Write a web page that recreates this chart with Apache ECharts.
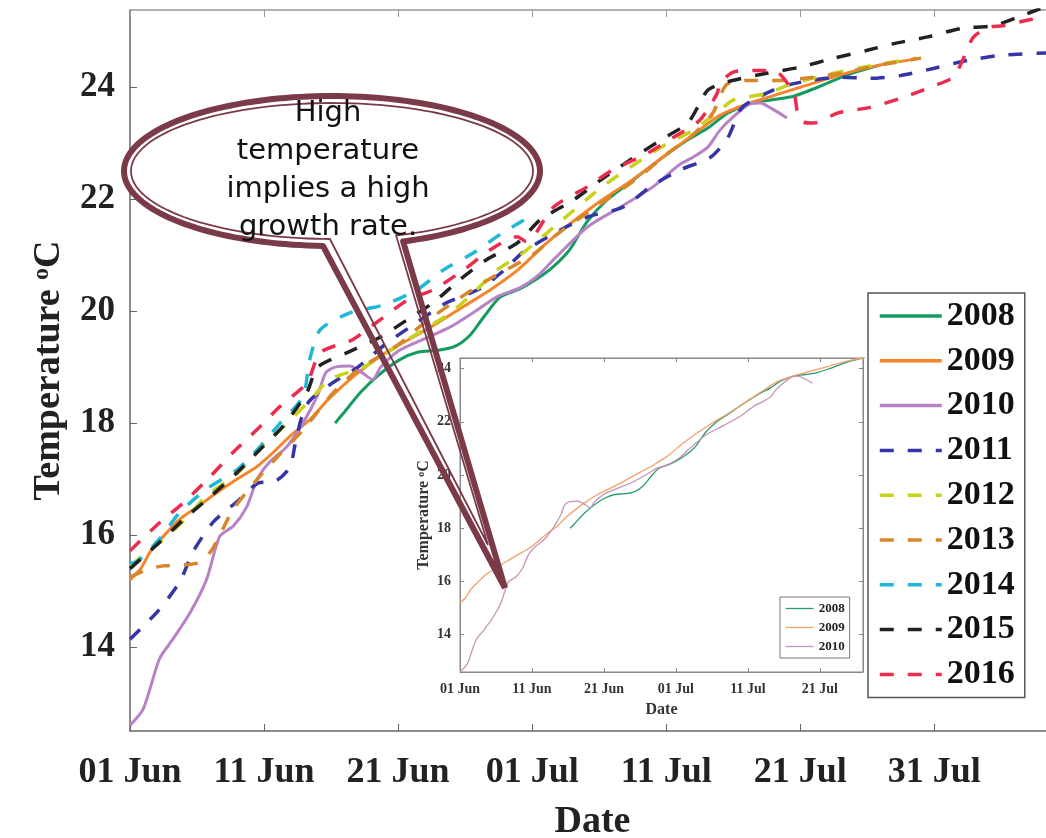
<!DOCTYPE html>
<html><head><meta charset="utf-8">
<script src="https://cdn.jsdelivr.net/npm/echarts@6/dist/echarts.min.js"></script>
<style>html,body{margin:0;padding:0;background:#fff}#c{width:1046px;height:838px}</style>
</head><body><div id="c"></div>
<script>
// ---- tick labels ----
const xTickDays = [0, 10, 20, 30, 40, 50, 60];
const xTickLabels = ['01 Jun', '11 Jun', '21 Jun', '01 Jul', '11 Jul', '21 Jul', '31 Jul'];
const yTicks = [14, 16, 18, 20, 22, 24];
const insetXTickDays = [0, 10, 20, 30, 40, 50];
const insetXTickLabels = ['01 Jun', '11 Jun', '21 Jun', '01 Jul', '11 Jul', '21 Jul'];
const insetYTicks = [14, 16, 18, 20, 22, 24];

// ---- series values: [day after 01 Jun, temperature °C] ----
const y2008 = [[15.3,18.0],[16,18.2],[17.2,18.55],[18.5,18.85],[20.1,19.13],[21.5,19.27],[23,19.3],[24.3,19.38],[25.4,19.58],[26.4,19.9],[27.6,20.25],[29.1,20.4],[30.5,20.6],[31.6,20.8],[32.8,21.1],[34.1,21.6],[35.6,21.99],[37.3,22.3],[39.6,22.72],[41.6,23.06],[43.1,23.27],[44.6,23.54],[46.3,23.71],[48,23.78],[49.5,23.84],[51.3,24.0],[53.7,24.24],[55.4,24.36],[56,24.4]];
const y2009 = [[0,15.2],[0.8,15.4],[1.5,15.7],[2.5,15.98],[3.7,16.28],[5,16.5],[6.5,16.76],[8,17.0],[9.5,17.23],[10.7,17.48],[11.9,17.76],[13.4,18.06],[14.9,18.45],[16.9,18.88],[19,19.25],[21,19.52],[23,19.8],[25,20.1],[27,20.4],[29,20.75],[31,21.2],[32.5,21.5],[35,21.95],[37.5,22.35],[40,22.8],[42,23.15],[44,23.5],[46,23.7],[48,23.85],[50,24.0],[53.7,24.27],[56,24.4],[59,24.52]];
const y2010 = [[0,12.6],[1,12.9],[2.2,13.79],[3.2,14.14],[4.5,14.62],[5.7,15.2],[6.7,15.98],[7.7,16.16],[8.7,16.5],[9.5,17.0],[10.4,17.3],[11.7,17.58],[12.9,18.0],[14,18.5],[14.6,18.9],[15.3,19.0],[16.4,19.02],[17.2,18.92],[18.1,18.78],[18.7,19.0],[20.1,19.3],[21.9,19.5],[23.9,19.72],[25.9,20.02],[27.4,20.26],[29.1,20.42],[30.5,20.65],[31.6,20.92],[34.1,21.5],[36.6,21.86],[39,22.22],[41,22.62],[42,22.75],[43.1,22.93],[44,23.23],[45,23.47],[46.3,23.71],[47,23.72],[48,23.6],[49,23.45]];
const y2011 = [[0,14.14],[2,14.62],[3.7,15.16],[4.7,15.7],[6.2,16.23],[8,16.6],[9.7,16.94],[10.7,16.95],[11.9,17.2],[12.3,17.6],[12.8,18.1],[13.4,18.4],[15,18.7],[17,19.0],[19,19.4],[21.4,19.8],[23.6,20.15],[26.1,20.4],[28,20.75],[29.3,21.05],[32.1,21.45],[34.1,21.68],[36.8,21.86],[38.8,22.22],[41,22.52],[43.3,22.75],[44.6,23.1],[45.5,23.59],[46.3,23.75],[48.5,24.0],[50.7,24.12],[53,24.18],[55.2,24.16],[57.5,24.21],[60,24.34],[62.5,24.48],[65,24.57],[69,24.62]];
const y2012 = [[0,15.45],[2.2,15.87],[4,16.25],[5.7,16.7],[8,17.1],[9.5,17.5],[11.3,17.9],[13.4,18.4],[14.9,18.78],[17.4,19.0],[19.9,19.37],[21.9,19.67],[23.9,19.97],[25.5,20.3],[27.4,20.74],[29.1,21.0],[31.6,21.5],[35.1,22.2],[37.3,22.57],[40.1,23.0],[42,23.23],[44,23.59],[45,23.77],[47.5,23.89],[49.5,24.07],[52.5,24.25],[55.4,24.39],[58.7,24.52]];
const y2013 = [[0,15.25],[1.5,15.4],[2.5,15.45],[5,15.5],[6,15.7],[6.7,16.0],[7.7,16.46],[9.5,17.0],[11,17.4],[13,17.9],[15,18.5],[17,18.95],[20,19.4],[22,19.8],[25,20.3],[27,20.6],[30,21.0],[32,21.4],[35,21.9],[38,22.4],[40,22.8],[42,23.15],[43.5,23.55],[44.5,24.05],[46,24.12],[48.3,24.12],[50,24.15],[53,24.25],[56,24.4],[59,24.52]];
const y2014 = [[0,15.5],[0.5,15.52],[2.2,15.93],[3.7,16.4],[5.7,16.82],[8,17.17],[9.7,17.58],[11.2,18.0],[12.9,18.47],[13.4,19.13],[14.2,19.67],[16.4,19.97],[18.9,20.11],[21.4,20.38],[23.4,20.74],[25.6,21.04],[27.8,21.4],[29.9,21.7]];
const y2015 = [[0,15.4],[2.2,15.87],[4,16.28],[6,16.69],[8,17.12],[9.7,17.53],[11.4,17.94],[13.2,18.55],[14,19.0],[16.2,19.26],[18.7,19.54],[20.7,19.85],[22.6,20.15],[24.6,20.56],[26.6,20.92],[28.9,21.22],[30.6,21.63],[33.1,21.99],[35.1,22.34],[37.3,22.7],[39.6,23.06],[41.6,23.36],[42.5,23.71],[43.1,23.95],[44.6,24.1],[47.5,24.25],[50,24.36],[52.5,24.52],[55,24.66],[57,24.78],[59.5,24.9],[62,25.05],[64.4,25.1],[66.2,25.25],[67.2,25.34],[69,25.5]];
const y2016 = [[0,15.72],[2.2,16.22],[4,16.58],[6,17.05],[7.7,17.48],[9.5,17.89],[11.2,18.3],[13.2,18.72],[14.2,19.26],[16.6,19.49],[18.4,19.8],[20.7,20.2],[22.6,20.38],[24.9,20.74],[26.9,21.1],[28.9,21.33],[29.5,21.25],[30,21.3],[31.6,21.86],[34.1,22.22],[36,22.52],[38.6,22.82],[40.5,23.1],[42.5,23.41],[43.8,23.89],[44,24.07],[45,24.27],[46.5,24.3],[48,24.3],[49.5,23.9],[49.8,23.54],[50.2,23.38],[51,23.36],[52.8,23.54],[55.2,23.64],[57.7,23.82],[59.7,24.0],[61.4,24.18],[62.2,24.53],[62.9,24.89],[64,25.07],[65.1,25.1],[67,25.2],[69,25.3]];

const serif = '"Liberation Serif", "Times New Roman", serif';
const axisGray = '#666';

const mainDefs = [
  ['2008', y2008, '#149b5f', 'solid'],
  ['2009', y2009, '#f5852a', 'solid'],
  ['2010', y2010, '#b783c6', 'solid'],
  ['2011', y2011, '#3535a5', 'dash'],
  ['2012', y2012, '#c5d31b', 'dash'],
  ['2013', y2013, '#d8862a', 'dash'],
  ['2014', y2014, '#1fb8d6', 'dash'],
  ['2015', y2015, '#222222', 'dash'],
  ['2016', y2016, '#ec2c4f', 'dash']
];
const insetDefs = [
  ['i2008', y2008, '#2c9c6e'],
  ['i2009', y2009, '#f2a26a'],
  ['i2010', y2010, '#c493b8']
];

const series = [];
mainDefs.forEach(d => {
  series.push({
    name: d[0], type: 'line', xAxisIndex: 0, yAxisIndex: 0, data: d[1],
    symbol: 'none', showSymbol: false, smooth: 0.25, silent: true, z: 2,
    lineStyle: { color: d[2], width: d[3] === 'dash' ? 3.5 : 3, type: d[3] === 'dash' ? [14, 14] : 'solid' },
    itemStyle: { color: d[2] }
  });
});
insetDefs.forEach(d => {
  series.push({
    name: d[0], type: 'line', xAxisIndex: 2, yAxisIndex: 1, data: d[1],
    symbol: 'none', showSymbol: false, smooth: 0.25, silent: true, z: 7,
    lineStyle: { color: d[2], width: 1.3 }, itemStyle: { color: d[2] }
  });
});

function tickAxis(extra) {
  return Object.assign({
    type: 'value', splitLine: { show: false },
    axisLine: { show: true, onZero: false, lineStyle: { color: axisGray, width: 1.5 } }
  }, extra);
}

// balloon geometry (decoration)
function ellipsePts(cx, cy, rx, ry, a0, a1, n) {
  const p = [];
  for (let i = 0; i <= n; i++) {
    const t = (a0 + (a1 - a0) * i / n) * Math.PI / 180;
    p.push([cx + rx * Math.cos(t), cy + ry * Math.sin(t)]);
  }
  return p;
}
const bc = [332, 171], brx = 208, bry = 75;
const outerPts = [[505, 588]].concat(ellipsePts(bc[0], bc[1], brx, bry, 92.5, 430, 160));
const innerPts = [[488, 545]].concat(ellipsePts(bc[0], bc[1], brx - 7, bry - 7, 90.6, 431.4, 160));
const fillPts = ellipsePts(bc[0], bc[1], brx, bry, 0, 360, 160);
const maroon = '#7b3a48';
const hiddenSymbol = { color: 'rgba(0,0,0,0)', borderWidth: 0, opacity: 0 };

const option = {
  animation: false,
  backgroundColor: '#fff',
  grid: [
    { left: 130, top: 10, width: 925, height: 721, outerBoundsMode: 'none', containLabel: false },
    { left: 460, top: 358, width: 403, height: 314, outerBoundsMode: 'none', containLabel: false,
      show: true, backgroundColor: '#fff', borderColor: '#888', borderWidth: 1, z: 5 }
  ],
  xAxis: [
    tickAxis({ gridIndex: 0, min: 0, max: 69, position: 'bottom',
      axisTick: { show: true, inside: true, length: 7, customValues: xTickDays, lineStyle: { color: axisGray } },
      axisLabel: { show: true, customValues: xTickDays, formatter: v => xTickLabels[xTickDays.indexOf(v)], margin: 24,
        fontFamily: serif, fontWeight: 'bold', fontSize: 36, color: '#222' },
      name: 'Date', nameLocation: 'middle', nameGap: 72,
      nameTextStyle: { fontFamily: serif, fontWeight: 'bold', fontSize: 38, color: '#222' } }),
    tickAxis({ gridIndex: 0, min: 0, max: 69, position: 'top',
      axisLine: { show: true, onZero: false, lineStyle: { color: '#999', width: 1.5 } },
      axisTick: { show: true, inside: true, length: 7, customValues: xTickDays, lineStyle: { color: '#999' } },
      axisLabel: { show: false } }),
    tickAxis({ gridIndex: 1, min: 0, max: 56, position: 'bottom', z: 6,
      axisLine: { show: true, onZero: false, lineStyle: { color: '#888', width: 1 } },
      axisTick: { show: true, inside: true, length: 4, customValues: insetXTickDays, lineStyle: { color: '#888' } },
      axisLabel: { show: true, customValues: insetXTickDays, formatter: v => insetXTickLabels[insetXTickDays.indexOf(v)], margin: 10,
        fontFamily: serif, fontWeight: 'bold', fontSize: 14, color: '#333' },
      name: 'Date', nameLocation: 'middle', nameGap: 30,
      nameTextStyle: { fontFamily: serif, fontWeight: 'bold', fontSize: 16, color: '#333' } }),
    tickAxis({ gridIndex: 1, min: 0, max: 56, position: 'top', z: 6,
      axisLine: { show: true, onZero: false, lineStyle: { color: '#888', width: 1 } },
      axisTick: { show: true, inside: true, length: 4, customValues: insetXTickDays, lineStyle: { color: '#888' } },
      axisLabel: { show: false } })
  ],
  yAxis: [
    tickAxis({ gridIndex: 0, min: 12.5, max: 25.38, position: 'left',
      axisTick: { show: true, inside: true, length: 7, customValues: yTicks, lineStyle: { color: axisGray } },
      axisLabel: { show: true, customValues: yTicks, margin: 15, fontFamily: serif, fontWeight: 'bold', fontSize: 35, color: '#222' },
      name: 'Temperature {sup|o}C', nameLocation: 'middle', nameGap: 62, nameRotate: 90,
      nameTextStyle: { fontFamily: serif, fontWeight: 'bold', fontSize: 38, color: '#222',
        rich: { sup: { fontFamily: serif, fontWeight: 'bold', fontSize: 24, color: '#222', verticalAlign: 'top', padding: [0, 0, 10, 0] } } } }),
    tickAxis({ gridIndex: 1, min: 12.6, max: 24.4, position: 'left', z: 6,
      axisLine: { show: true, onZero: false, lineStyle: { color: '#888', width: 1 } },
      axisTick: { show: true, inside: true, length: 4, customValues: insetYTicks, lineStyle: { color: '#888' } },
      axisLabel: { show: true, customValues: insetYTicks, margin: 9, fontFamily: serif, fontWeight: 'bold', fontSize: 14, color: '#333' },
      name: 'Temperature {sup|o}C', nameLocation: 'middle', nameGap: 28, nameRotate: 90,
      nameTextStyle: { fontFamily: serif, fontWeight: 'bold', fontSize: 16, color: '#333',
        rich: { sup: { fontFamily: serif, fontWeight: 'bold', fontSize: 10, color: '#333', verticalAlign: 'top', padding: [0, 0, 4, 0] } } } }),
    tickAxis({ gridIndex: 1, min: 12.6, max: 24.4, position: 'right', z: 6,
      axisLine: { show: true, onZero: false, lineStyle: { color: '#888', width: 1 } },
      axisTick: { show: true, inside: true, length: 4, customValues: insetYTicks, lineStyle: { color: '#888' } },
      axisLabel: { show: false } })
  ],
  legend: [
    { data: mainDefs.map(d => d[0]), orient: 'vertical', left: 868, top: 293, padding: [5, 10, 5, 10],
      itemWidth: 62, itemHeight: 14, itemGap: 8.8, borderColor: '#555', borderWidth: 1.5, backgroundColor: '#fff',
      selectedMode: false, lineStyle: { width: 3.5 }, itemStyle: hiddenSymbol,
      textStyle: { fontFamily: serif, fontWeight: 'bold', fontSize: 34, lineHeight: 36, color: '#111' } },
    { data: insetDefs.map(d => d[0]), formatter: n => n.slice(1), orient: 'vertical', left: 780, top: 597, padding: [4, 5, 4, 5],
      itemWidth: 28, itemHeight: 8, itemGap: 4, borderColor: '#777', borderWidth: 1, backgroundColor: '#fff', z: 8,
      selectedMode: false, lineStyle: { width: 1.3 }, itemStyle: hiddenSymbol,
      textStyle: { fontFamily: serif, fontWeight: 'bold', fontSize: 13, lineHeight: 15, color: '#222' } }
  ],
  graphic: [
    { type: 'polygon', z: 100, silent: true, shape: { points: fillPts }, style: { fill: '#fff', stroke: null } },
    { type: 'polyline', z: 101, silent: true, shape: { points: outerPts.concat([outerPts[0]]) },
      style: { fill: null, stroke: maroon, lineWidth: 6, lineJoin: 'round' } },
    { type: 'polyline', z: 101, silent: true, shape: { points: innerPts.concat([innerPts[0]]) },
      style: { fill: null, stroke: maroon, lineWidth: 1.8, lineJoin: 'miter' } },
    { type: 'text', z: 102, silent: true, x: 328, y: 170,
      style: { text: 'High\ntemperature\nimplies a high\ngrowth rate.', fontFamily: '"DejaVu Sans", sans-serif', fontSize: 29,
        lineHeight: 38, fill: '#111', align: 'center', verticalAlign: 'middle' } }
  ],
  series: series
};

const chart = echarts.init(document.getElementById('c'), null, { renderer: 'canvas' });
chart.setOption(option);
</script>
</body></html>
